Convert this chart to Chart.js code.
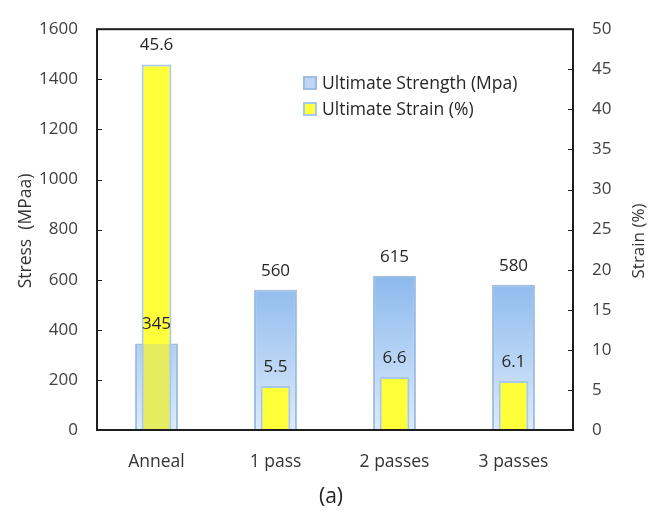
<!DOCTYPE html>
<html>
<head>
<meta charset="utf-8">
<script src="https://cdn.jsdelivr.net/npm/chart.js@4/dist/chart.umd.min.js"></script>
<style>
  html, body { margin: 0; padding: 0; background: #ffffff; }
  #wrap { width: 656px; height: 517px; }
</style>
</head>
<body>
<div id="wrap"><canvas id="c" width="656" height="517"></canvas></div>
<script>
// Processing conditions
const categories = ['Anneal', '1 pass', '2 passes', '3 passes'];
// Ultimate strength, MPa (left axis)
const strength = [345, 560, 615, 580];
// Ultimate strain, % (right axis)
const strain = [45.6, 5.5, 6.6, 6.1];
const strainLabels = ['45.6', '5.5', '6.6', '6.1'];

const seriesNames = ['Ultimate Strength (Mpa)', 'Ultimate Strain (%)'];
const stressTitle = 'Stress  (MPaa)';
const strainTitle = 'Strain (%)';
const panelTag = '(a)';

const FONT = '"Open Sans", "Noto Sans", sans-serif';
const YELLOW = 'rgb(255,255,58)';
const YELLOW_UNDER = 'rgb(230,236,96)';
const BLUE_BORDER = 'rgb(156,188,226)';
const YELLOW_BORDER = 'rgb(166,200,236)';

function blueFill(ctx) {
  const chart = ctx.chart;
  const { chartArea, scales } = chart;
  if (!chartArea || !scales.y) return 'rgb(180,210,244)';
  const y0 = scales.y.getPixelForValue(0);
  const y1 = scales.y.getPixelForValue(650);
  const g = chart.ctx.createLinearGradient(0, y0, 0, y1);
  g.addColorStop(0, 'rgb(222,235,251)');
  g.addColorStop(1, 'rgb(134,182,236)');
  return g;
}

function yellowFill(ctx) {
  const chart = ctx.chart;
  const { chartArea, scales } = chart;
  if (!chartArea || ctx.dataIndex === undefined || !scales.y) return YELLOW;
  const i = ctx.dataIndex;
  const yTop = scales.y2.getPixelForValue(strain[i]);
  const yStr = scales.y.getPixelForValue(strength[i]);
  if (yTop >= yStr) return YELLOW;
  const bottom = chartArea.bottom;
  const f = (yStr - yTop) / (bottom - yTop);
  const g = chart.ctx.createLinearGradient(0, yTop, 0, bottom);
  g.addColorStop(0, YELLOW);
  g.addColorStop(f, YELLOW);
  g.addColorStop(Math.min(1, f + 0.001), YELLOW_UNDER);
  g.addColorStop(1, YELLOW_UNDER);
  return g;
}

// Frame, inside tick marks, axis titles, legend, value labels
const decorations = {
  id: 'decorations',
  afterDatasetsDraw(chart) {
    const { ctx, chartArea: a, scales } = chart;
    ctx.save();

    // value labels
    ctx.font = '17px ' + FONT;
    ctx.fillStyle = '#262626';
    ctx.textAlign = 'center';
    ctx.textBaseline = 'middle';
    chart.getDatasetMeta(0).data.forEach((bar, i) => {
      ctx.fillText(String(strength[i]), bar.x, bar.y - 19);
    });
    chart.getDatasetMeta(1).data.forEach((bar, i) => {
      ctx.fillText(strainLabels[i], bar.x, bar.y - 19);
    });

    // plot frame
    ctx.strokeStyle = '#1e1e1e';
    ctx.lineWidth = 2;
    ctx.strokeRect(a.left, a.top, a.right - a.left, a.bottom - a.top);

    // inside tick marks
    ctx.lineWidth = 1.2;
    ctx.beginPath();
    scales.y.ticks.forEach(t => {
      const py = Math.round(scales.y.getPixelForValue(t.value)) + 0.5;
      ctx.moveTo(a.left, py); ctx.lineTo(a.left + 5, py);
    });
    scales.y2.ticks.forEach(t => {
      const py = Math.round(scales.y2.getPixelForValue(t.value)) + 0.5;
      ctx.moveTo(a.right - 5, py); ctx.lineTo(a.right, py);
    });
    ctx.stroke();

    // axis titles, both reading bottom to top
    ctx.fillStyle = '#333333';
    ctx.font = '17.5px ' + FONT;
    ctx.save();
    ctx.translate(26, 231);
    ctx.rotate(-Math.PI / 2);
    ctx.fillText(stressTitle, 0, 0);
    ctx.restore();
    ctx.font = '17px ' + FONT;
    ctx.save();
    ctx.translate(639, 241);
    ctx.rotate(-Math.PI / 2);
    ctx.fillText(strainTitle, 0, 0);
    ctx.restore();

    // panel tag
    ctx.font = '21px ' + FONT;
    ctx.fillStyle = '#222222';
    ctx.fillText(panelTag, 331, 497);

    // legend
    const lx = 304, rows = [83, 109];
    const fills = ['rgb(190,214,242)', YELLOW];
    const strokes = [BLUE_BORDER, YELLOW_BORDER];
    ctx.font = '17.5px ' + FONT;
    ctx.textAlign = 'left';
    rows.forEach((ry, k) => {
      ctx.fillStyle = fills[k];
      ctx.fillRect(lx, ry - 6, 12, 12);
      ctx.strokeStyle = strokes[k];
      ctx.lineWidth = 2;
      ctx.strokeRect(lx, ry - 6, 12, 12);
      ctx.fillStyle = '#262626';
      ctx.fillText(seriesNames[k], lx + 18, ry + 1);
    });

    ctx.restore();
  }
};

const plainTick = v => String(v);

new Chart(document.getElementById('c'), {
  type: 'bar',
  data: {
    labels: categories,
    datasets: [
      {
        label: seriesNames[0],
        data: strength,
        yAxisID: 'y',
        grouped: false,
        order: 1,
        categoryPercentage: 1,
        barPercentage: 0.36,
        backgroundColor: blueFill,
        borderColor: BLUE_BORDER,
        borderWidth: 2,
        borderSkipped: 'start'
      },
      {
        label: seriesNames[1],
        data: strain,
        yAxisID: 'y2',
        grouped: false,
        order: 0,
        categoryPercentage: 1,
        barPercentage: 0.25,
        backgroundColor: yellowFill,
        borderColor: YELLOW_BORDER,
        borderWidth: 2,
        borderSkipped: 'start'
      }
    ]
  },
  options: {
    responsive: false,
    animation: false,
    devicePixelRatio: 1,
    layout: { padding: { top: 20, left: 0, right: 0, bottom: 0 } },
    plugins: {
      legend: { display: false },
      tooltip: { enabled: false }
    },
    scales: {
      x: {
        grid: { display: false, drawTicks: false },
        border: { display: false },
        ticks: { font: { family: FONT, size: 17.5 }, color: '#333333', padding: 22 },
        afterFit(s) { s.height = 87; }
      },
      y: {
        position: 'left',
        min: 0, max: 1600,
        grid: { display: false, drawTicks: false },
        border: { display: false },
        ticks: { stepSize: 200, callback: plainTick, font: { family: FONT, size: 17 }, color: '#404040', padding: 19 },
        afterFit(s) { s.width = 97; }
      },
      y2: {
        position: 'right',
        min: 0, max: 50,
        grid: { display: false, drawTicks: false },
        border: { display: false },
        ticks: { stepSize: 5, callback: plainTick, font: { family: FONT, size: 17 }, color: '#404040', padding: 19 },
        afterFit(s) { s.width = 83; }
      }
    }
  },
  plugins: [decorations]
});
</script>
</body>
</html>
